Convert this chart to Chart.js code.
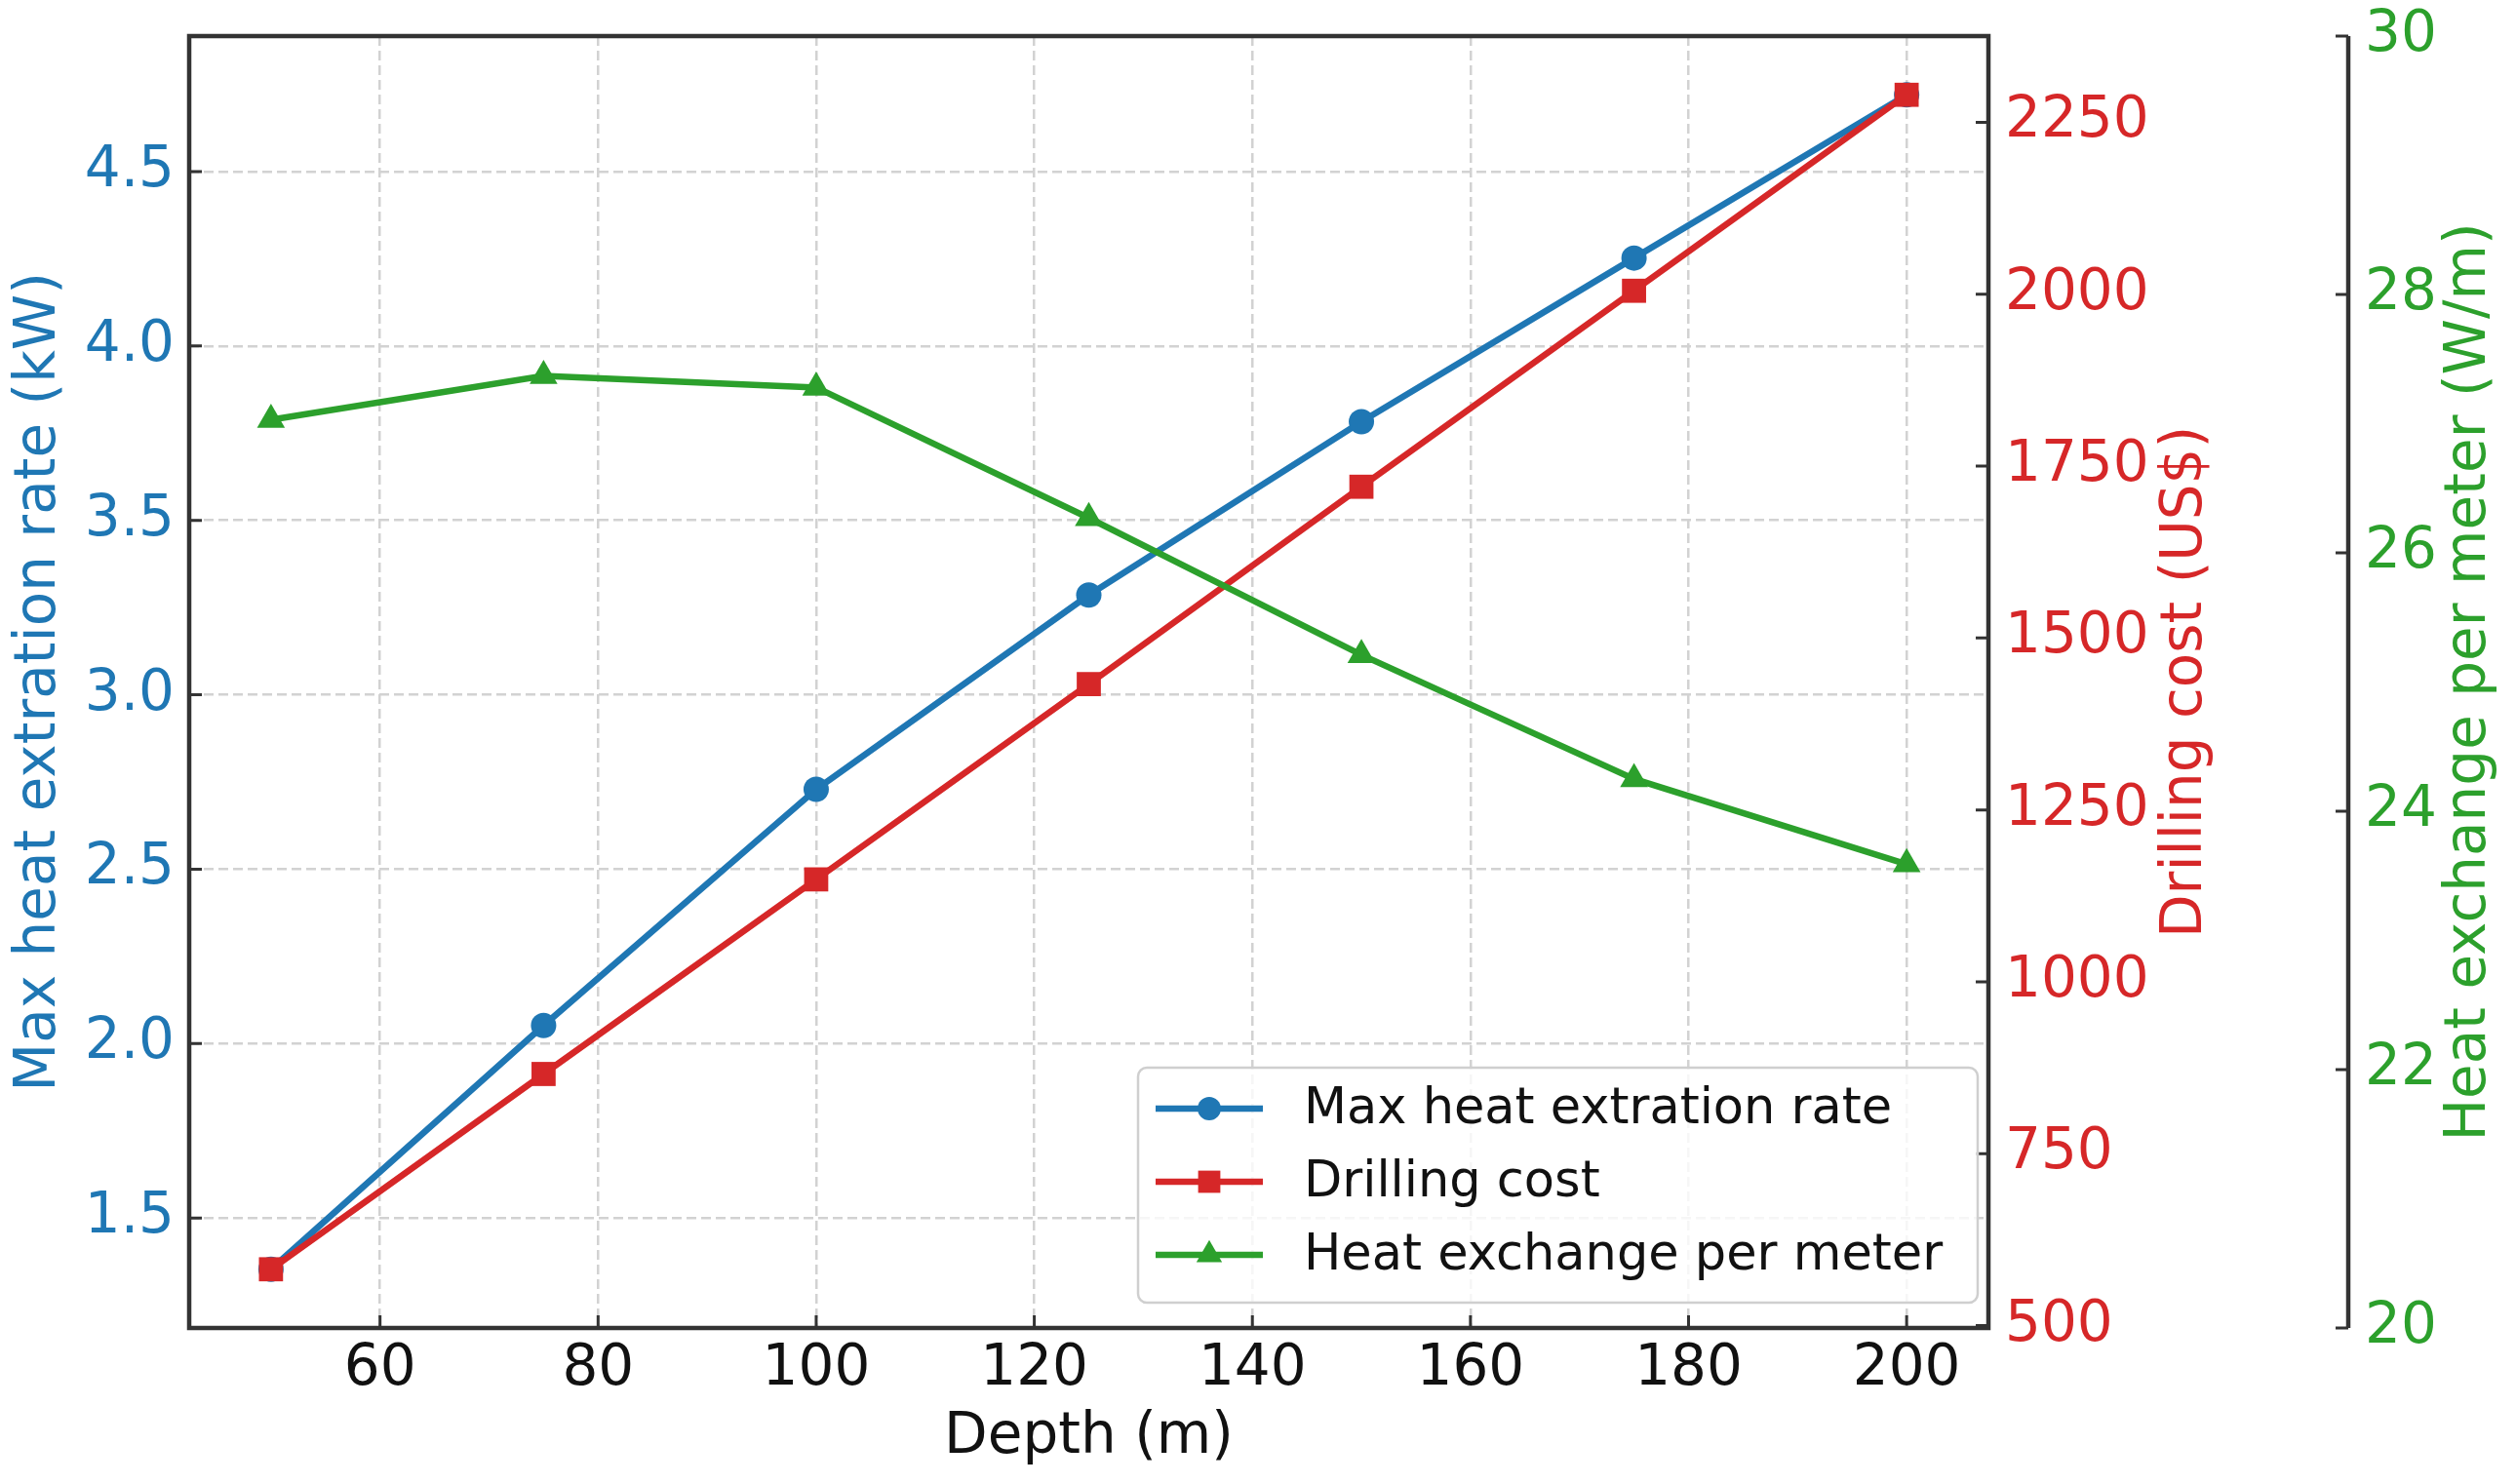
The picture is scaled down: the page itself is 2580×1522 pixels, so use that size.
<!DOCTYPE html>
<html>
<head>
<meta charset="utf-8">
<script src="https://cdn.jsdelivr.net/npm/chart.js@4.4.1/dist/chart.umd.min.js"></script>
<style>
  html, body { margin: 0; padding: 0; background: #fff; }
  #wrap { width: 2580px; height: 1522px; position: relative; }
</style>
</head>
<body>
<div id="wrap"><canvas id="chart"></canvas></div>
<script>
// data
var depth = [50, 75, 100, 125, 150, 175, 200];
var heatRate = [1.353, 2.052, 2.729, 3.286, 3.783, 4.252, 4.72];
var drillCost = [582, 866, 1149, 1433, 1720, 2005, 2290];
var heatPerMeter = [27.03, 27.37, 27.28, 26.27, 25.21, 24.25, 23.59];

var depthTicks = [60, 80, 100, 120, 140, 160, 180, 200];
var rateTicks = [1.5, 2.0, 2.5, 3.0, 3.5, 4.0, 4.5];
var costTicks = [500, 750, 1000, 1250, 1500, 1750, 2000, 2250];
var perMeterTicks = [20, 22, 24, 26, 28, 30];

var BLUE = '#1f77b4', RED = '#d62728', GREEN = '#2ca02c';
var FONT = '"DejaVu Sans", sans-serif';

function pad5(arr) {
  var lo = Math.min.apply(null, arr), hi = Math.max.apply(null, arr);
  var p = (hi - lo) * 0.05;
  return [lo - p, hi + p];
}
function pts(ys) {
  return depth.map(function(d, i) { return {x: d, y: ys[i]}; });
}
function setTicks(list) {
  return function(scale) {
    scale.ticks = list.map(function(v) { return {value: v}; });
  };
}
// fixed box sizes so the plot area sits where the reference has it
function fixW(w) {
  return function(s) { s.width = w; s.paddingTop = 0; s.paddingBottom = 0; };
}
function plain(v) { return String(v); }

var xr = pad5(depth), yr = pad5(heatRate), cr = pad5(drillCost);

// frame, inward ticks, titles and legend
var decor = {
  id: 'decor',
  afterDatasetsDraw: function(chart) {
    var ctx = chart.ctx, a = chart.chartArea, s = chart.scales;
    ctx.save();
    ctx.strokeStyle = '#333';
    ctx.lineWidth = 3;
    var T = 13;
    ctx.beginPath();
    depthTicks.forEach(function(v) {
      var px = s.x.getPixelForValue(v);
      ctx.moveTo(px, a.bottom); ctx.lineTo(px, a.bottom - T);
    });
    rateTicks.forEach(function(v) {
      var py = s.y.getPixelForValue(v);
      ctx.moveTo(a.left, py); ctx.lineTo(a.left + T, py);
    });
    costTicks.forEach(function(v) {
      var py = s.y1.getPixelForValue(v);
      ctx.moveTo(a.right, py); ctx.lineTo(a.right - T, py);
    });
    perMeterTicks.forEach(function(v) {
      var py = s.y2.getPixelForValue(v);
      ctx.moveTo(s.y2.left, py); ctx.lineTo(s.y2.left - T, py);
    });
    ctx.stroke();
    ctx.lineWidth = 4.5;
    ctx.strokeRect(a.left, a.top, a.right - a.left, a.bottom - a.top);
    ctx.beginPath();
    ctx.moveTo(s.y2.left, a.top); ctx.lineTo(s.y2.left, a.bottom);
    ctx.stroke();
    ctx.restore();
  },
  afterDraw: function(chart) {
    var ctx = chart.ctx, a = chart.chartArea;
    var cy = (a.top + a.bottom) / 2;
    ctx.save();
    ctx.font = '58px ' + FONT;
    ctx.textAlign = 'center';
    ctx.textBaseline = 'middle';
    function vtitle(text, x, color) {
      ctx.save();
      ctx.translate(x, cy);
      ctx.rotate(-Math.PI / 2);
      ctx.fillStyle = color;
      ctx.fillText(text, 0, 0);
      ctx.restore();
    }
    vtitle('Max heat extration rate (kW)', 41, BLUE);
    vtitle('Drilling cost (US$)', 2242, RED);
    vtitle('Heat exchange per meter (W/m)', 2533, GREEN);
    ctx.fillStyle = '#111';
    ctx.fillText('Depth (m)', (a.left + a.right) / 2, 1475);

    // legend
    var lx = 1167, ly = 1095, lw = 861, lh = 241;
    ctx.beginPath();
    ctx.roundRect(lx, ly, lw, lh, 9);
    ctx.fillStyle = 'rgba(255,255,255,0.8)';
    ctx.fill();
    ctx.strokeStyle = '#cfcfcf';
    ctx.lineWidth = 2.5;
    ctx.stroke();
    var rows = [1137, 1212, 1287];
    ctx.font = '51px ' + FONT;
    ctx.textAlign = 'left';
    chart.data.datasets.forEach(function(ds, i) {
      var y = rows[i];
      ctx.strokeStyle = ds.borderColor;
      ctx.lineWidth = ds.borderWidth;
      ctx.beginPath();
      ctx.moveTo(1185, y); ctx.lineTo(1295, y);
      ctx.stroke();
      ctx.fillStyle = ds.backgroundColor;
      Chart.helpers.drawPoint(ctx, {pointStyle: ds.pointStyle, radius: ds.pointRadius * 0.92, rotation: 0, borderWidth: 0}, 1240, y);
      ctx.fillStyle = '#111';
      ctx.fillText(ds.label, 1337, y + 2);
    });
    ctx.restore();
  }
};

var tickFont = {family: FONT, size: 58};
var gridOpts = {color: '#d2d2d2', lineWidth: 2.5, drawTicks: false};

new Chart(document.getElementById('chart'), {
  type: 'line',
  data: {
    datasets: [
      {label: 'Max heat extration rate', data: pts(heatRate), yAxisID: 'y', order: 3,
       borderColor: BLUE, backgroundColor: BLUE, borderWidth: 6.5,
       pointStyle: 'circle', pointRadius: 13, pointBorderWidth: 0},
      {label: 'Drilling cost', data: pts(drillCost), yAxisID: 'y1', order: 2,
       borderColor: RED, backgroundColor: RED, borderWidth: 6.5,
       pointStyle: 'rect', pointRadius: 17.5, pointBorderWidth: 0},
      {label: 'Heat exchange per meter', data: pts(heatPerMeter), yAxisID: 'y2', order: 1,
       borderColor: GREEN, backgroundColor: GREEN, borderWidth: 6.5,
       pointStyle: 'triangle', pointRadius: 16.5, pointBorderWidth: 0}
    ]
  },
  options: {
    responsive: true,
    maintainAspectRatio: false,
    devicePixelRatio: 1,
    animation: false,
    layout: {padding: {top: 37, left: 0, right: 0, bottom: 0}},
    plugins: {legend: {display: false}, tooltip: {enabled: false}},
    elements: {line: {tension: 0}},
    scales: {
      x: {
        type: 'linear', position: 'bottom', min: xr[0], max: xr[1],
        afterBuildTicks: setTicks(depthTicks),
        afterFit: function(s) { s.height = 160; s.paddingLeft = 0; s.paddingRight = 0; },
        grid: gridOpts,
        border: {display: false, dash: [10, 5]},
        ticks: {font: tickFont, color: '#111', padding: 8, callback: plain}
      },
      y: {
        type: 'linear', position: 'left', min: yr[0], max: yr[1],
        afterBuildTicks: setTicks(rateTicks),
        afterFit: fixW(194),
        grid: gridOpts,
        border: {display: false, dash: [10, 5]},
        ticks: {font: tickFont, color: BLUE, padding: 15,
                callback: function(v) { return v.toFixed(1); }}
      },
      y1: {
        type: 'linear', position: 'right', min: cr[0], max: cr[1],
        afterBuildTicks: setTicks(costTicks),
        afterFit: fixW(369),
        grid: {display: false, drawTicks: false},
        border: {display: false},
        ticks: {font: tickFont, color: RED, padding: 17, callback: plain}
      },
      y2: {
        type: 'linear', position: 'right', min: 20, max: 30,
        afterBuildTicks: setTicks(perMeterTicks),
        afterFit: fixW(172),
        grid: {display: false, drawTicks: false},
        border: {display: false},
        ticks: {font: tickFont, color: GREEN, padding: 17, callback: plain}
      }
    }
  },
  plugins: [decor]
});
</script>
</body>
</html>
